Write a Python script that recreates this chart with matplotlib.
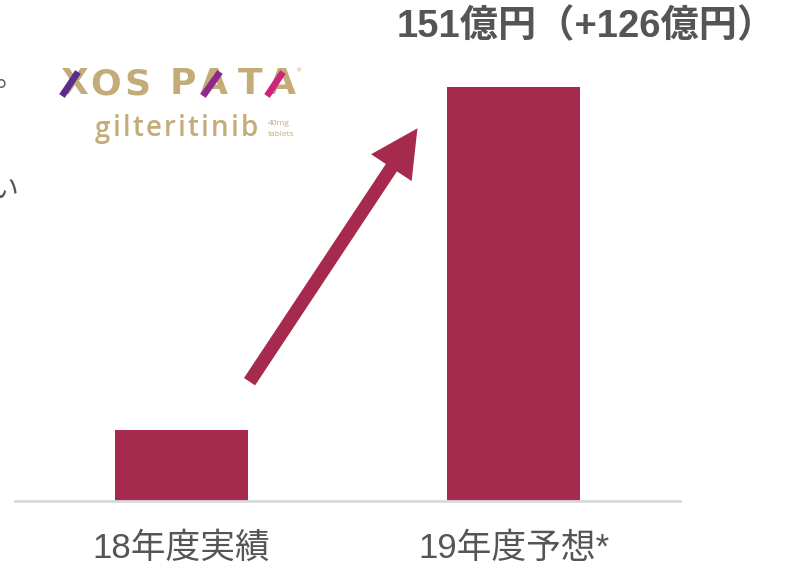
import matplotlib
matplotlib.use("Agg")
import matplotlib.pyplot as plt
from matplotlib.patches import FancyArrowPatch, ArrowStyle
from matplotlib.lines import Line2D

categories = ["18年度実績", "19年度予想*"]
values = [26, 151]
title_text = "151億円（+126億円）"
logo_letters = ["X", "O", "S", "P", "A", "T", "A"]
logo_sub = "gilteritinib"

plt.rcParams['font.family'] = ['Liberation Sans', 'Noto Sans CJK JP', 'DejaVu Sans']

W, H = 788, 565
fig = plt.figure(figsize=(W/100, H/100), dpi=100)
bar_color = "#A52A4D"
text_color = "#555555"

ax = fig.add_axes([15/W, 64/H, 665/W, 501/H])
ax.bar(range(len(categories)), values, width=0.4, color=bar_color, zorder=2)
ax.set_xlim(-0.5, 1.5)
ax.set_ylim(0, 151 * 501 / 414)
for s in ["top", "right", "left"]:
    ax.spines[s].set_visible(False)
ax.spines["bottom"].set_color("#d9d9d9")
ax.spines["bottom"].set_linewidth(2)
ax.set_yticks([])
ax.set_xticks(range(len(categories)))
ax.set_xticklabels(categories, fontsize=25, color=text_color,
                   family=['Liberation Sans', 'Noto Sans CJK JP'])
ax.tick_params(axis="x", length=0, pad=22)
ax.patch.set_alpha(0)

# arrow
arrow = FancyArrowPatch((248/W, 1 - 384/H), (419/W, 1 - 126/H),
                        transform=fig.transFigure,
                        arrowstyle=ArrowStyle.Simple(head_length=1.7, head_width=1.75, tail_width=0.48),
                        mutation_scale=20, color=bar_color, lw=0)
fig.patches.append(arrow)

# title
fig.text(397/W, 1 - 27/H, title_text, fontsize=27.5, fontweight="bold",
         color=text_color, ha="left", va="center",
         family=['Liberation Sans', 'Noto Sans CJK JP'])

# logo
gold = "#C4AC78"
letter_x = [74, 106, 137, 183, 214, 250, 282]
for lx, ch in zip(letter_x, logo_letters):
    fig.text(lx/W, 1 - 84/H, ch, fontsize=26, color=gold, ha="center", va="center",
             family=['DejaVu Sans'], fontweight="bold")
for (x0, x1), c in [((62, 78), "#5B2C8C"), ((203, 220), "#8E2A8C"), ((267, 283), "#D0237A")]:
    fig.add_artist(Line2D([x0/W, x1/W], [1 - 96/H, 1 - 72/H], transform=fig.transFigure,
                          color=c, lw=4.8, solid_capstyle="butt", zorder=6))
fig.text(299/W, 1 - 71/H, "®", fontsize=4, color=gold, ha="center", va="center", family=['Lato'])

# letter-spaced subtitle
renderer = fig.canvas.get_renderer()
cx = 95.0
for ch in logo_sub:
    t = fig.text(cx/W, 1 - 129/H, ch, fontsize=20, color=gold, ha="left", va="center",
                 family=['Open Sans'], fontweight="semibold")
    cx += t.get_window_extent(renderer).width + 2.2
fig.text(268/W, 1 - 124/H, "40mg", fontsize=6, color=gold, ha="left", va="center", family=['Open Sans'])
fig.text(268/W, 1 - 135/H, "tablets", fontsize=6, color=gold, ha="left", va="center", family=['Open Sans'])

# cut-off text at left edge (as in the reference)
fig.text(-4/W, 1 - 78/H, "。", fontsize=20, color=text_color, ha="left", va="center",
         family=['Noto Sans CJK JP'])
fig.text(-10/W, 1 - 190/H, "い", fontsize=20, color=text_color, ha="left", va="center",
         family=['Noto Sans CJK JP'])

fig.savefig("out.png", dpi=100)
